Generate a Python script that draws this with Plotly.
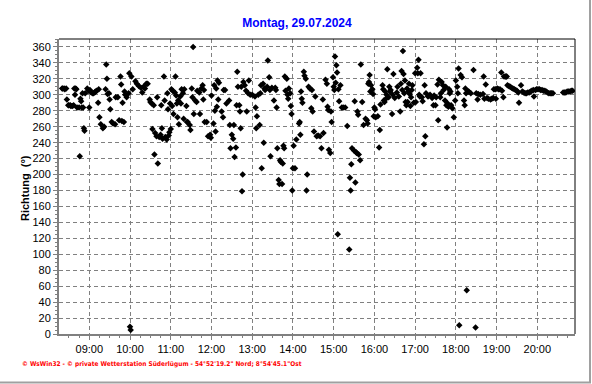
import plotly.graph_objects as go
import pandas as pd

DAY = "2024-07-29"
title_text = "Montag, 29.07.2024"
y_title = "Richtung  (°)"
footer = "© WsWin32 - © private Wetterstation Süderlügum - 54°52'19.2\" Nord; 8°54'45.1\"Ost"

t_08 = ["08:20","08:21","08:23","08:24","08:26","08:27","08:29","08:30","08:32","08:33","08:35","08:37",
        "08:38","08:39","08:40","08:41","08:42","08:45","08:46","08:47","08:48","08:49","08:50","08:51",
        "08:52","08:53","08:54","08:57","08:59"]
v_08 = [308,308,308,307,308,294,287,287,287,286,286,287,
        308,300,308,307,284,284,223,295,292,284,302,284,
        258,255,302,308,305]

t_09 = ["09:00","09:01","09:03","09:05","09:06","09:08","09:09","09:11","09:13","09:14","09:15","09:17",
        "09:20","09:22","09:24","09:25","09:26","09:27","09:29","09:30","09:31","09:33","09:35","09:38",
        "09:39","09:42","09:44","09:46","09:47","09:48","09:49","09:51","09:52","09:53","09:55","09:58","09:59"]
v_09 = [284,306,303,302,302,303,304,305,290,307,272,263,
        258,260,307,338,320,301,302,294,282,266,264,263,
        297,297,268,323,313,267,290,266,304,300,297,302,327]

t_10 = ["10:00","10:01","10:02","10:04","10:08","10:10","10:13","10:16","10:18","10:20","10:22","10:24",
        "10:26","10:29","10:30","10:32","10:33","10:35","10:36","10:37","10:39","10:40","10:41","10:43",
        "10:45","10:46","10:47","10:48","10:50","10:51","10:52","10:54","10:55","10:56","10:57","10:58","10:59"]
v_10 = [9,5,323,307,317,314,311,309,303,310,308,314,
        314,294,291,289,257,287,225,252,248,297,214,247,
        250,287,258,245,323,293,247,244,302,282,249,253,289]

t_11 = ["11:00","11:01","11:02","11:03","11:04","11:06","11:07","11:08","11:09","11:10","11:11","11:12",
        "11:14","11:15","11:16","11:18","11:19","11:20","11:23","11:24","11:25","11:28","11:29","11:31",
        "11:32","11:33","11:34","11:36","11:38","11:39","11:42","11:43","11:45","11:47","11:48","11:49",
        "11:50","11:53","11:55","11:58","11:59"]
v_11 = [257,307,286,305,276,303,323,299,289,272,293,263,
        298,289,307,302,270,307,286,266,266,262,256,308,
        297,360,276,293,291,305,303,276,308,312,294,306,
        266,266,248,250,246]

t_12 = ["12:00","12:03","12:04","12:05","12:06","12:07","12:08","12:09","12:10","12:11","12:15","12:17",
        "12:18","12:20","12:22","12:26","12:27","12:28","12:30","12:32","12:33","12:34","12:36","12:37",
        "12:38","12:39","12:41","12:42","12:43","12:44","12:45","12:46","12:47","12:49","12:51","12:52",
        "12:54","12:55","12:57"]
v_12 = [299,264,312,280,254,308,285,318,294,315,279,272,
        306,306,289,293,262,233,250,245,262,222,234,287,
        329,310,287,279,258,310,179,200,316,312,305,279,
        302,318,300]

t_13 = ["13:00","13:04","13:05","13:06","13:07","13:09","13:11","13:12","13:13","13:14","13:16","13:17",
        "13:18","13:19","13:22","13:23","13:25","13:26","13:27","13:29","13:32","13:34","13:35","13:36",
        "13:37","13:39","13:40","13:41","13:42","13:44","13:45","13:46","13:47","13:48","13:49","13:51",
        "13:52","13:53","13:54","13:56","13:57","13:58","13:59"]
v_13 = [300,298,284,258,273,300,262,302,312,208,314,240,
        308,306,310,343,322,306,223,309,293,309,306,284,
        233,193,188,218,216,188,214,236,233,323,305,320,
        300,295,308,302,286,276,180]

t_14 = ["14:00","14:01","14:03","14:05","14:09","14:10","14:11","14:12","14:13","14:14","14:16","14:17",
        "14:19","14:20","14:21","14:23","14:25","14:27","14:28","14:29","14:31","14:33","14:35","14:37",
        "14:40","14:42","14:44","14:45","14:48","14:50","14:51","14:52","14:53","14:55","14:56","14:57","14:59"]
v_14 = [208,236,208,244,264,266,250,304,295,290,329,324,
        320,180,200,310,308,283,306,279,254,298,248,249,
        248,233,294,252,319,314,285,281,231,227,279,266,322]

t_15 = ["15:00","15:01","15:02","15:03","15:04","15:05","15:06","15:07","15:08","15:10","15:12","15:14",
        "15:17","15:20","15:23","15:24","15:25","15:26","15:27","15:30","15:31","15:32","15:33","15:34",
        "15:35","15:36","15:37","15:39","15:40","15:42","15:44","15:47","15:49","15:50","15:51","15:52",
        "15:53","15:54","15:55","15:57","15:58","15:59"]
v_15 = [310,306,348,315,337,328,125,307,292,312,284,284,
        284,261,106,196,180,213,233,230,292,190,228,227,
        279,275,225,218,338,291,262,270,268,264,314,316,
        325,304,312,307,301,273]

t_16 = ["16:00","16:01","16:02","16:05","16:07","16:08","16:09","16:12","16:13","16:14","16:15","16:16",
        "16:17","16:18","16:19","16:21","16:22","16:23","16:24","16:26","16:27","16:28","16:30","16:33",
        "16:34","16:36","16:38","16:39","16:40","16:41","16:42","16:43","16:44","16:45","16:46","16:47",
        "16:48","16:49","16:50","16:51","16:52","16:53","16:54","16:55","16:56","16:58"]
v_16 = [284,282,272,273,234,256,288,312,307,293,291,304,
        295,300,332,297,310,304,306,276,300,326,296,303,
        310,298,279,314,330,306,355,326,302,318,291,287,
        308,291,304,314,301,286,297,306,312,290]

t_17 = ["17:00","17:01","17:03","17:04","17:05","17:06","17:07","17:08","17:10","17:11","17:13","17:14",
        "17:15","17:16","17:19","17:22","17:25","17:27","17:28","17:30","17:31","17:33","17:34","17:35",
        "17:37","17:38","17:39","17:41","17:42","17:44","17:45","17:46","17:47","17:48","17:49","17:50",
        "17:51","17:52","17:53","17:55","17:57","17:59"]
v_17 = [327,291,334,327,344,300,298,327,297,292,238,312,
        248,302,298,300,296,287,299,287,297,313,268,319,
        297,302,316,312,306,293,310,287,259,289,285,307,
        302,304,287,283,272,293]

t_18 = ["18:00","18:02","18:03","18:04","18:05","18:07","18:09","18:12","18:13","18:14","18:15","18:16",
        "18:18","18:19","18:22","18:26","18:29","18:30","18:32","18:33","18:36","18:40","18:41","18:42",
        "18:44","18:46","18:48","18:51","18:53","18:55","18:56","18:58","18:59"]
v_18 = [318,310,302,333,11,325,322,293,287,308,302,55,
        304,304,302,331,8,302,294,301,300,301,323,295,
        313,296,295,294,295,296,307,307,295]

t_19 = ["19:01","19:03","19:05","19:07","19:08","19:10","19:11","19:13","19:14","19:15","19:16","19:18",
        "19:20","19:22","19:24","19:26","19:28","19:30","19:32","19:33","19:36","19:38","19:40","19:42",
        "19:44","19:46","19:48","19:50","19:52","19:54","19:55","19:57","19:59"]
v_19 = [308,307,307,328,305,297,323,323,323,323,312,311,
        310,309,308,307,306,305,303,290,312,304,303,302,
        302,303,303,304,305,306,298,306,307]

t_20 = ["20:01","20:03","20:05","20:07","20:09","20:11","20:13","20:15","20:17","20:19","20:21","20:23",
        "20:38","20:40","20:42","20:44","20:46","20:48","20:50","20:52"]
v_20 = [307,307,306,306,305,305,304,303,302,302,302,302,
        303,303,303,304,304,304,305,305]

times = t_08 + t_09 + t_10 + t_11 + t_12 + t_13 + t_14 + t_15 + t_16 + t_17 + t_18 + t_19 + t_20
dirs = v_08 + v_09 + v_10 + v_11 + v_12 + v_13 + v_14 + v_15 + v_16 + v_17 + v_18 + v_19 + v_20
x = pd.to_datetime([f"{DAY} {t}" for t in times])

FONT = "Liberation Sans, Arial, sans-serif"
GRID = "#808080"

fig = go.Figure()
fig.add_trace(go.Scatter(
    x=x, y=dirs, mode="markers",
    marker=dict(symbol="diamond", size=5, color="black", line=dict(width=0)),
    hoverinfo="x+y", showlegend=False))

fig.update_layout(
    width=592, height=384,
    margin=dict(l=59, r=17, t=39, b=50),
    paper_bgcolor="white", plot_bgcolor="white",
    font=dict(family=FONT, size=11, color="black"),
    title=dict(text=f"<b>{title_text}</b>", x=0.5017, y=1 - 23 / 384, xref="container", yref="container",
               xanchor="center", yanchor="middle", font=dict(family=FONT, size=12, color="#0000FF")),
    xaxis=dict(
        type="date",
        range=[f"{DAY} 08:15:24", f"{DAY} 20:55:30"],
        tick0=f"{DAY} 09:00", dtick=3600000, tickformat="%H:%M",
        showgrid=True, gridcolor=GRID, gridwidth=1, griddash="4px,3px",
        showline=True, linecolor="#808080", linewidth=2,
        ticks="outside", ticklen=4, tickcolor="#808080", tickwidth=1,
        minor=dict(dtick=900000, ticks="outside", ticklen=2, tickcolor="#808080", showgrid=False),
        zeroline=False, tickfont=dict(size=11),
    ),
    yaxis=dict(
        range=[0, 370], tick0=0, dtick=20,
        showgrid=True, gridcolor=GRID, gridwidth=1, griddash="4px,3px",
        showline=True, linecolor="#808080", linewidth=2,
        ticks="outside", ticklen=4, tickcolor="#808080", tickwidth=1,
        minor=dict(dtick=5, ticks="outside", ticklen=2, tickcolor="#808080", showgrid=False),
        zeroline=False, tickfont=dict(size=11),
    ),
    shapes=[
        dict(type="line", xref="paper", yref="paper", x0=0, x1=1, y0=1, y1=1,
             line=dict(color="black", width=1)),
        dict(type="line", xref="paper", yref="paper", x0=1, x1=1, y0=0, y1=1,
             line=dict(color="black", width=1)),
        dict(type="line", xref="paper", yref="paper", x0=(590 - 59) / 516, x1=(590 - 59) / 516,
             y0=(334 - 383) / 295, y1=(334 - 0) / 295, line=dict(color="#a0a0a0", width=2)),
        dict(type="line", xref="paper", yref="paper", x0=(0 - 59) / 516, x1=(591 - 59) / 516,
             y0=(334 - 382.5) / 295, y1=(334 - 382.5) / 295, line=dict(color="#a0a0a0", width=2)),
    ],
    annotations=[
        dict(text=f"<b>{y_title}</b>", textangle=-90, xref="paper", yref="paper",
             x=(25 - 59) / 516, y=(334 - 188) / 295, xanchor="center", yanchor="middle",
             showarrow=False, font=dict(family=FONT, size=11, color="black")),
        dict(text=f"<b>{footer}</b>", xref="paper", yref="paper",
             x=(20 - 59) / 516, y=(334 - 364) / 295, xanchor="left", yanchor="middle",
             showarrow=False, font=dict(family="Liberation Sans Narrow, DejaVu Sans Condensed, Arial Narrow, sans-serif",
                                        size=6.5, color="#FF0000")),
    ],
)

fig.write_html("out.html")
